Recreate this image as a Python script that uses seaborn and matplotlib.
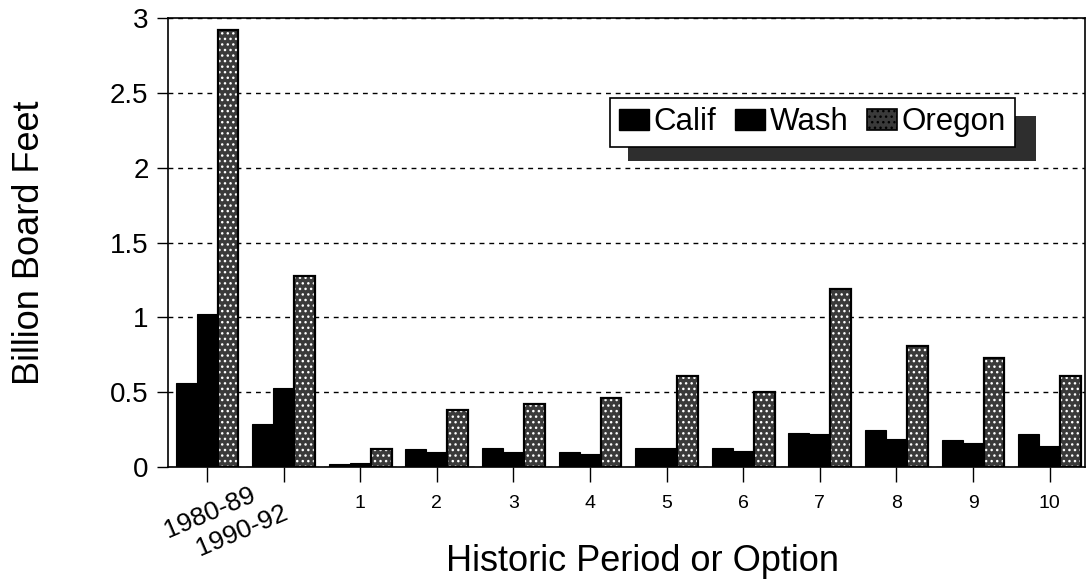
import matplotlib
matplotlib.use('Agg')
import matplotlib.pyplot as plt
import numpy as np
import pandas as pd
import seaborn as sns
from matplotlib.patches import Patch, Rectangle

periods = ['1980-89', '1990-92', '1', '2', '3', '4', '5', '6', '7', '8', '9', '10']
calif = [0.56, 0.29, 0.02, 0.12, 0.13, 0.10, 0.13, 0.13, 0.23, 0.25, 0.18, 0.22]
wash = [1.02, 0.53, 0.03, 0.10, 0.10, 0.09, 0.13, 0.11, 0.22, 0.19, 0.16, 0.14]
oregon = [2.92, 1.28, 0.12, 0.38, 0.42, 0.46, 0.61, 0.50, 1.19, 0.81, 0.73, 0.61]
states = ['Calif', 'Wash', 'Oregon']
yticks = [0, 0.5, 1, 1.5, 2, 2.5, 3]
ytick_labels = ['0', '0.5', '1', '1.5', '2', '2.5', '3']

df = pd.DataFrame({
    'Period': periods * 3,
    'State': ['Calif'] * len(periods) + ['Wash'] * len(periods) + ['Oregon'] * len(periods),
    'Value': calif + wash + oregon,
})

sns.set_style('white')
plt.rcParams['font.family'] = ['Liberation Sans', 'DejaVu Sans']
plt.rcParams['text.color'] = 'black'
plt.rcParams['axes.labelcolor'] = 'black'
plt.rcParams['xtick.color'] = 'black'
plt.rcParams['ytick.color'] = 'black'

fig = plt.figure(figsize=(10.86, 5.86), dpi=100)
ax = fig.add_axes([0.1547, 0.203, 0.8443, 0.766])

ore_face = '#3a3a3a'
sns.barplot(data=df, x='Period', y='Value', hue='State', hue_order=states,
            palette={'Calif': 'black', 'Wash': 'black', 'Oregon': ore_face},
            width=0.82, saturation=1, legend=False, ax=ax, errorbar=None)

for bar in ax.containers[2]:
    bar.set_edgecolor('white')
    bar.set_hatch('...')
    bar.set_linewidth(1.2)
for c in ax.containers[:2]:
    for bar in c:
        bar.set_edgecolor('black')
        bar.set_linewidth(0.8)

# outer black outline for Oregon bars
for bar in ax.containers[2]:
    outline = Rectangle(bar.get_xy(), bar.get_width(), bar.get_height(),
                        fill=False, edgecolor='black', linewidth=1.6, zorder=bar.get_zorder() + 0.1)
    ax.add_patch(outline)

ax.set_ylim(0, 3)
ax.set_xlim(-0.51, 11.46)
ax.set_yticks(yticks)
ax.set_yticklabels(ytick_labels, fontsize=20, color='black')
ax.yaxis.grid(True, linestyle=(0, (3.5, 3.5)), color='black', linewidth=1.0)
ax.xaxis.grid(False)
ax.set_axisbelow(True)
for s in ax.spines.values():
    s.set_visible(True)
    s.set_color('black')
    s.set_linewidth(1.2)

ax.tick_params(axis='both', direction='out', length=8, width=1, color='black',
               labelcolor='black', left=True, bottom=True)
ax.tick_params(axis='y', pad=6)
ax.tick_params(axis='x', length=11, pad=9)

ax.set_xticks(range(len(periods)))
labels = ['' if p.startswith('19') else p for p in periods]
ax.set_xticklabels(labels, fontsize=14, color='black')

trans = ax.get_xaxis_transform()
ax.text(0.55, -0.036, periods[0], transform=trans, rotation=23, ha='right', va='top',
        rotation_mode='anchor', fontsize=19, color='black')
ax.text(0.97, -0.074, periods[1], transform=trans, rotation=23, ha='right', va='top',
        rotation_mode='anchor', fontsize=19, color='black')

ax.set_xlabel('Historic Period or Option', fontsize=26, color='black')
ax.xaxis.set_label_coords(0.518, -0.172)
ax.set_ylabel('Billion Board Feet', fontsize=26, color='black')
ax.yaxis.set_label_coords(-0.132, 0.5)

# legend with shadow
shadow = Rectangle((0.502, 0.682), 0.445, 0.1, transform=ax.transAxes,
                   facecolor='#2e2e2e', edgecolor='none', zorder=4)
ax.add_patch(shadow)
handles = [Patch(facecolor='black', edgecolor='black'),
           Patch(facecolor='black', edgecolor='black'),
           Patch(facecolor=ore_face, edgecolor='black', hatch='...', linewidth=1.2)]
leg = ax.legend(handles, states, ncol=3, loc='upper left', bbox_to_anchor=(0.482, 0.822),
                fontsize=22.5, frameon=True, fancybox=False, framealpha=1, edgecolor='black',
                handlelength=0.95, handleheight=0.65, handletextpad=0.15, columnspacing=0.6,
                borderpad=0.3, borderaxespad=0, labelcolor='black')
leg.get_frame().set_linewidth(1.2)
leg.set_zorder(5)

fig.savefig('out.png', dpi=100)
